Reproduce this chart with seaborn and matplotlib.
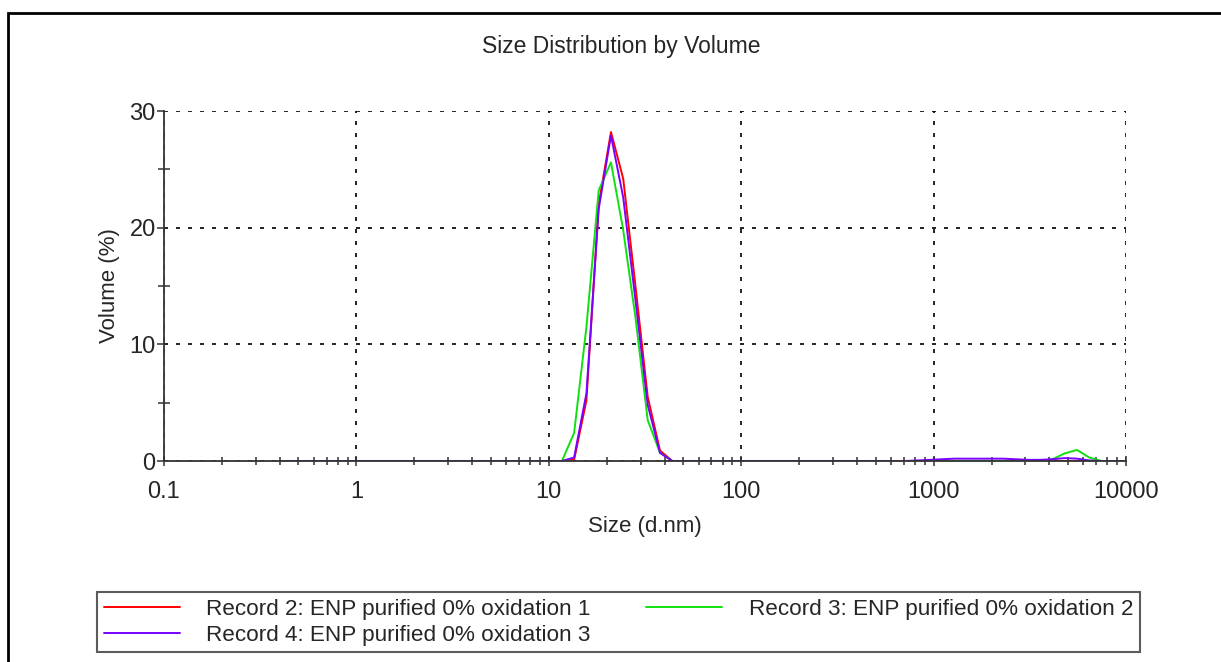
import numpy as np
import pandas as pd
import matplotlib
matplotlib.use("Agg")
import matplotlib.pyplot as plt
from matplotlib.patches import Rectangle
from matplotlib.ticker import LogLocator, FixedLocator, NullFormatter
import seaborn as sns

# Zetasizer size bins (d.nm)
sizes = [0.4, 0.4632, 0.5365, 0.6213, 0.7195, 0.8332, 0.9649, 1.117, 1.294, 1.499,
         1.736, 2.01, 2.328, 2.696, 3.122, 3.615, 4.187, 4.849, 5.615, 6.503,
         7.531, 8.721, 10.1, 11.7, 13.54, 15.69, 18.17, 21.04, 24.36, 28.21,
         32.67, 37.84, 43.82, 50.75, 58.77, 68.06, 78.82, 91.28, 105.7, 122.4,
         141.8, 164.2, 190.1, 220.2, 255.0, 295.3, 342.0, 396.1, 458.7, 531.2,
         615.1, 712.4, 825.0, 955.4, 1106, 1281, 1484, 1718, 1990, 2305,
         2669, 3091, 3580, 4145, 4801, 5560, 6439, 7456, 8635, 10000]

# volume % per bin
rec2 = [0] * 24 + [0.1, 5.2, 22.0, 28.2, 24.2, 15.0, 5.5, 0.9] + [0] * 38
rec3 = ([0] * 24 + [2.4, 11.5, 23.2, 25.6, 19.8, 12.3, 3.5, 0.7] + [0] * 31
        + [0.15, 0.65, 0.95, 0.3, 0, 0, 0])
rec4 = ([0] * 24 + [0.3, 5.8, 21.6, 27.9, 22.6, 13.8, 4.8, 0.7] + [0] * 20
        + [0.05, 0.1, 0.15, 0.2, 0.2, 0.2, 0.2, 0.2, 0.15, 0.1, 0.1, 0.15, 0.25, 0.2, 0.05, 0, 0, 0])

labels = ["Record 2: ENP purified 0% oxidation 1",
          "Record 3: ENP purified 0% oxidation 2",
          "Record 4: ENP purified 0% oxidation 3"]
colors = ["#ff0000", "#10e010", "#7a00ff"]

x_ticks = [0.1, 1, 10, 100, 1000, 10000]
x_ticklabels = ["0.1", "1", "10", "100", "1000", "10000"]

df = pd.concat([
    pd.DataFrame({"size": sizes, "volume": vals, "record": lab})
    for vals, lab in zip([rec2, rec3, rec4], labels)
])

sns.set_style("ticks")
plt.rcParams["font.family"] = ["Liberation Sans", "DejaVu Sans"]

fig = plt.figure(figsize=(12.21, 6.62), dpi=100)
ax = fig.add_axes([164 / 1221, 1 - 461 / 662, (1126 - 164) / 1221, (461 - 111) / 662])

sns.lineplot(data=df, x="size", y="volume", hue="record", hue_order=labels,
             palette=dict(zip(labels, colors)), linewidth=1.4, ax=ax, legend=False)

ax.set_xscale("log")
ax.set_xlim(0.1, 10000)
ax.set_ylim(0, 30)
ax.set_yticks([0, 10, 20, 30])
ax.yaxis.set_minor_locator(FixedLocator([5, 15, 25]))
ax.set_xticks(x_ticks, labels=x_ticklabels)
ax.xaxis.set_minor_locator(LogLocator(base=10, subs=np.arange(2, 10), numticks=20))
ax.xaxis.set_minor_formatter(NullFormatter())

ax.grid(True, which="major", color="black", linestyle=(0, (2.4, 4.8)), linewidth=1.2)
for s in ["top", "right"]:
    ax.spines[s].set_visible(False)
for s in ["left", "bottom"]:
    ax.spines[s].set_color("#333333")
    ax.spines[s].set_linewidth(1.3)

ax.tick_params(axis="x", which="major", direction="inout", length=7, width=1.1,
               color="#333333", labelsize=17, pad=11)
ax.tick_params(axis="x", which="minor", direction="inout", length=6, width=1.1, color="#333333")
ax.tick_params(axis="y", which="major", direction="out", length=5, width=1.1,
               color="#333333", labelsize=17, pad=1)
ax.tick_params(axis="y", which="minor", direction="inout", length=8.6, width=1.1, color="#333333")

ax.set_xlabel("Size (d.nm)", fontsize=16, labelpad=9)
ax.set_ylabel("Volume (%)", fontsize=16, labelpad=7)
fig.text(621 / 1221, 1 - 47 / 662, "Size Distribution by Volume", fontsize=16.5,
         ha="center", va="center")

handles = [plt.Line2D([], [], color=c, lw=1.4) for c in colors]
order = [0, 2, 1]
leg = fig.legend([handles[i] for i in order], [labels[i] for i in order],
                 loc="upper left",
                 bbox_to_anchor=(97 / 1221, 1 - 654 / 662, (1140 - 97) / 1221, 62 / 662),
                 mode="expand", ncol=2, fontsize=16.2, frameon=True, fancybox=False,
                 handlelength=3.38, handletextpad=1.17, borderaxespad=0, labelspacing=0.22,
                 borderpad=0.3, columnspacing=2.34)
leg.get_frame().set_edgecolor("#333333")
leg.get_frame().set_linewidth(1.5)

fig.add_artist(Rectangle((8 / 1221, -0.1), 1.2, 1.1 - 13 / 662, transform=fig.transFigure,
                         fill=False, linewidth=2, edgecolor="black"))

fig.savefig("out.png", dpi=100)
